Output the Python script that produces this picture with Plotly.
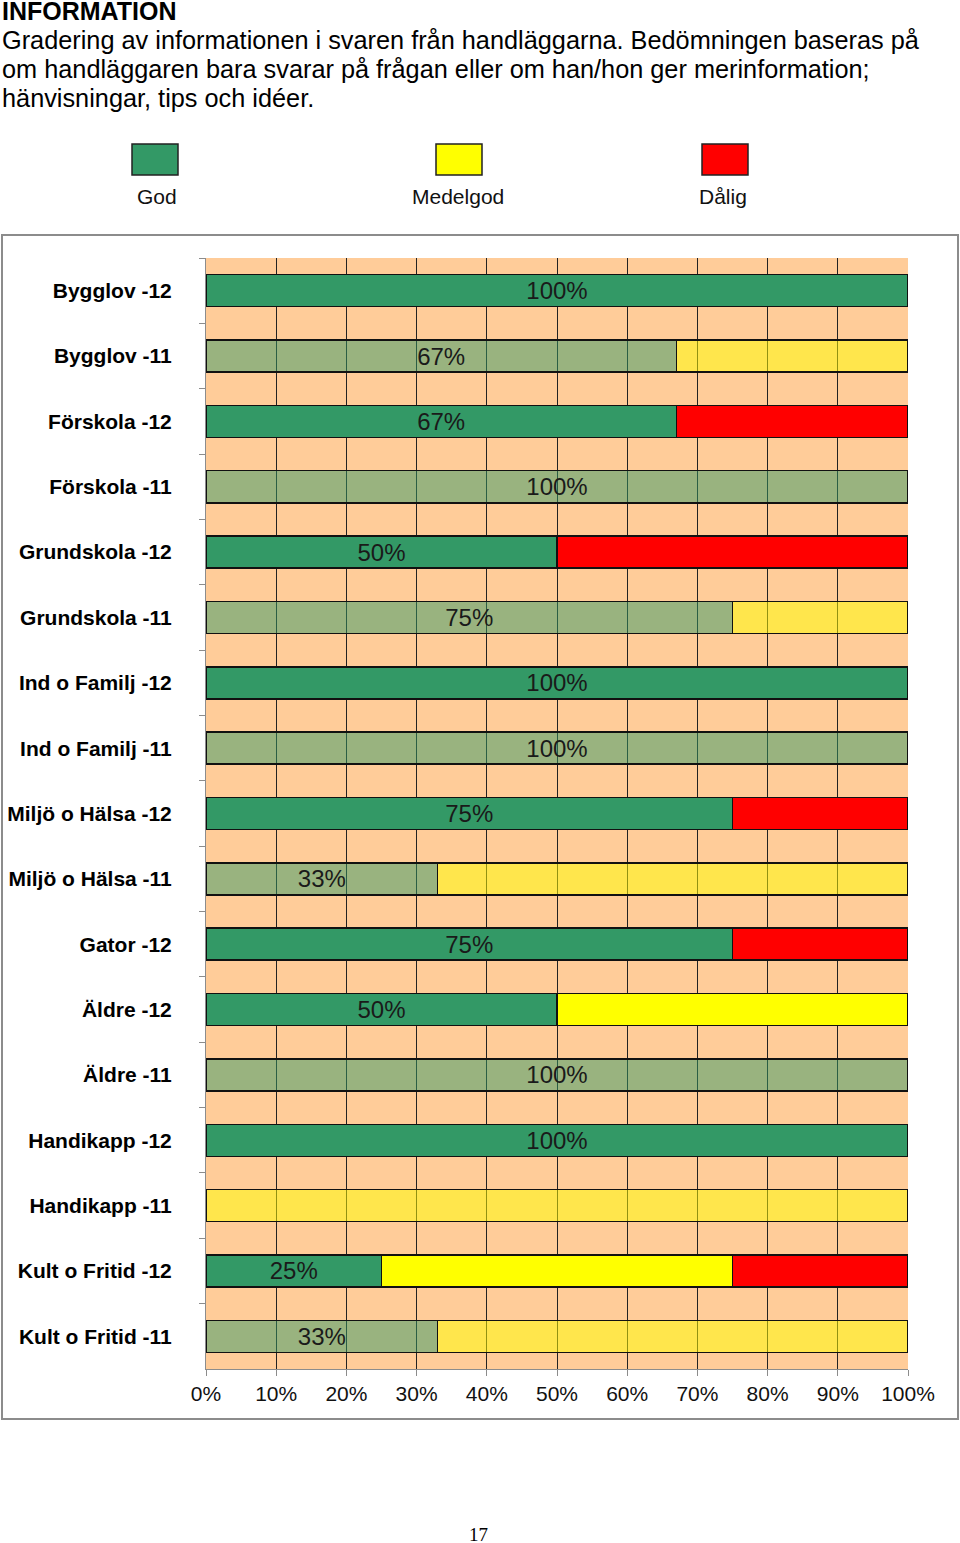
import plotly.graph_objects as go

categories = ["Bygglov -12", "Bygglov -11", "Förskola -12", "Förskola -11",
              "Grundskola -12", "Grundskola -11", "Ind o Familj -12", "Ind o Familj -11",
              "Miljö o Hälsa -12", "Miljö o Hälsa -11", "Gator -12", "Äldre -12",
              "Äldre -11", "Handikapp -12", "Handikapp -11", "Kult o Fritid -12",
              "Kult o Fritid -11"]
god      = [100, 67, 67, 100, 50, 75, 100, 100, 75, 33, 75, 50, 100, 100, 0, 25, 33]
medelgod = [0, 33, 0, 0, 0, 25, 0, 0, 0, 67, 0, 50, 0, 0, 100, 50, 67]
dalig    = [0, 0, 33, 0, 50, 0, 0, 0, 25, 0, 25, 0, 0, 0, 0, 25, 0]
x_ticks = [0, 10, 20, 30, 40, 50, 60, 70, 80, 90, 100]
series_names = ["God", "Medelgod", "Dålig"]

title_lines = ["Gradering av informationen i svaren från handläggarna. Bedömningen baseras på",
               "om handläggaren bara svarar på frågan eller om han/hon ger merinformation;",
               "hänvisningar, tips och idéer."]

FONT = "Liberation Sans, Arial, sans-serif"
W, H = 960, 1543
base_colors = {"God": (51, 153, 102), "Medelgod": (255, 255, 0), "Dålig": (255, 0, 0)}


def colors_for(name):
    r, g, b = base_colors[name]
    out = []
    for c in categories:
        a = 0.5 if c.endswith("-11") else 1.0
        out.append(f"rgba({r},{g},{b},{a})")
    return out


fig = go.Figure()
for name, vals in zip(series_names, [god, medelgod, dalig]):
    if name == "God":
        text = [f"{v}%" if v > 0 else "" for v in vals]
    else:
        text = ["" for v in vals]
    fig.add_trace(go.Bar(
        y=categories, x=vals, orientation="h", name=name,
        marker=dict(color=colors_for(name), line=dict(color="#111111", width=1.5)),
        text=text, textposition="inside", insidetextanchor="middle",
        textfont=dict(family=FONT, size=24, color="#1a1a1a"),
        constraintext="none", cliponaxis=False, hoverinfo="skip",
    ))


def px_x(x):
    return x / W


def px_y(y):
    return 1 - y / H


shapes = []
# outer chart frame
shapes.append(dict(type="rect", xref="paper", yref="paper", x0=px_x(2), x1=px_x(958),
                   y0=px_y(1419), y1=px_y(235), line=dict(color="#8c8c8c", width=2),
                   fillcolor="rgba(0,0,0,0)", layer="below"))
# legend squares
legend_pos = [(132, 157, "God"), (436, 458, "Medelgod"), (702, 723, "Dålig")]
annotations = []
for x0, xc, name in legend_pos:
    r, g, b = base_colors[name]
    shapes.append(dict(type="rect", xref="paper", yref="paper", x0=px_x(x0), x1=px_x(x0 + 46),
                       y0=px_y(175), y1=px_y(144), fillcolor=f"rgb({r},{g},{b})",
                       line=dict(color="#222222", width=1.5)))
    annotations.append(dict(text=name, x=px_x(xc), y=px_y(197), xref="paper", yref="paper",
                            xanchor="center", yanchor="middle", showarrow=False,
                            font=dict(family=FONT, size=21, color="#111111")))

annotations.append(dict(text="<b>INFORMATION</b>", x=0, y=px_y(11), xref="paper", yref="paper",
                        xanchor="left", yanchor="middle", showarrow=False,
                        font=dict(family=FONT, size=25, color="#000000")))
for i, line in enumerate(title_lines):
    annotations.append(dict(text=line, x=0, y=px_y(40 + 29 * i), xref="paper", yref="paper",
                            xanchor="left", yanchor="middle", showarrow=False,
                            font=dict(family=FONT, size=25.3, color="#000000")))
annotations.append(dict(text="17", x=px_x(478), y=px_y(1534), xref="paper", yref="paper",
                        xanchor="center", yanchor="middle", showarrow=False,
                        font=dict(family="Liberation Serif, Times New Roman, serif", size=19,
                                  color="#000000")))

fig.update_layout(
    width=W, height=H, autosize=False,
    margin=dict(l=0, r=0, t=0, b=0, pad=0, autoexpand=False),
    paper_bgcolor="white", plot_bgcolor="#FFCC99",
    barmode="stack", bargap=0.51, showlegend=False,
    shapes=shapes, annotations=annotations,
    xaxis=dict(domain=[206 / W, 908 / W], range=[0, 100], tickvals=x_ticks,
               ticktext=[f"{t}%" for t in x_ticks], showgrid=True, gridcolor="#222222",
               gridwidth=1, zeroline=False, showline=True, linecolor="#8c8c8c", linewidth=1,
               ticks="outside", ticklen=6, tickcolor="#8c8c8c", automargin=False,
               tickfont=dict(family=FONT, size=21, color="#111111"), fixedrange=True),
    yaxis=dict(domain=[(H - 1369) / H, (H - 258) / H], type="category",
               categoryorder="array", categoryarray=categories, autorange="reversed",
               tickson="boundaries", ticks="outside", ticklen=6, tickcolor="#8c8c8c",
               showline=True, linecolor="#8c8c8c", linewidth=1, showgrid=False,
               ticklabelstandoff=29, automargin=False,
               tickfont=dict(family=FONT, size=21, color="#000000", weight="bold"),
               fixedrange=True),
    font=dict(family=FONT),
)

fig.write_html("out.html", config={"responsive": False, "displayModeBar": False},
               post_script="document.body.style.margin='0';document.body.style.padding='0';"
                           "document.body.style.overflow='hidden';")
